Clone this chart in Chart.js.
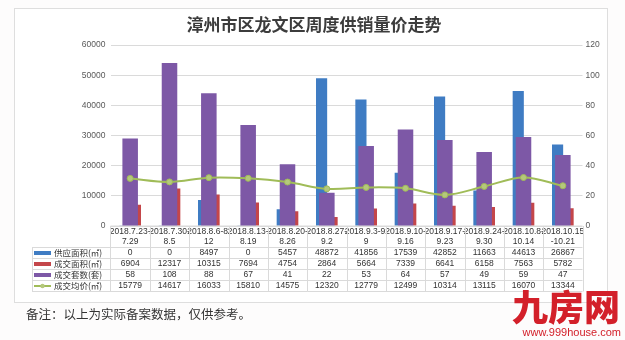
<!DOCTYPE html>
<html lang="zh-CN">
<head>
<meta charset="utf-8">
<title>漳州市区龙文区周度供销量价走势</title>
<script src="https://cdn.jsdelivr.net/npm/chart.js@4/dist/chart.umd.min.js"></script>
<style>
  html, body { margin: 0; padding: 0; background: #fdfcfc; }
  body { width: 625px; height: 340px; position: relative; overflow: hidden;
         font-family: "Liberation Sans", Arial, sans-serif; }
  .card { position: absolute; left: 14px; top: 8px; width: 592px; height: 293px;
          background: #fff; border: 1px solid #dedede; }
  #chart { position: absolute; left: 0; top: 0; }
  .title { position: absolute; left: 0; width: 628px; top: 11px; text-align: center;
           font: 600 17px "Noto Sans CJK SC", sans-serif; color: #3c3c3c; }
  .note { position: absolute; left: 26px; top: 304px;
          font: 12.5px "Noto Sans CJK SC", sans-serif; color: #333; }
  .logo { position: absolute; right: 5px; top: 284px; font: 900 36px "Noto Sans CJK SC", sans-serif;
          color: #d3202a; letter-spacing: 0px; line-height: 42px; }
  .site { position: absolute; right: 4px; top: 326px; font: 11px "Liberation Sans", Arial, sans-serif;
          color: #d3202a; }
</style>
</head>
<body>
<div class="card"></div>
<canvas id="chart" width="625" height="340"></canvas>
<div class="title">漳州市区龙文区周度供销量价走势</div>
<div class="note">备注：以上为实际备案数据，仅供参考。</div>
<div class="logo">九房网</div>
<div class="site">www.999house.com</div>

<script>
/* 周度区间（两行显示） */
const weeks = [
  ["2018.7.23-", "7.29"],
  ["2018.7.30-", "8.5"],
  ["2018.8.6-8.", "12"],
  ["2018.8.13-", "8.19"],
  ["2018.8.20-", "8.26"],
  ["2018.8.27-", "9.2"],
  ["2018.9.3-9.", "9"],
  ["2018.9.10-", "9.16"],
  ["2018.9.17-", "9.23"],
  ["2018.9.24-", "9.30"],
  ["2018.10.8-", "10.14"],
  ["2018.10.15", "-10.21"],
];

const supplyArea = [0, 0, 8497, 0, 5457, 48872, 41856, 17539, 42852, 11663, 44613, 26867];
const dealArea = [6904, 12317, 10315, 7694, 4754, 2864, 5664, 7339, 6641, 6158, 7563, 5782];
const dealUnits = [58, 108, 88, 67, 41, 22, 53, 64, 57, 49, 59, 47];
const avgPrice = [15779, 14617, 16033, 15810, 14575, 12320, 12779, 12499, 10314, 13115, 16070, 13344];

const leftTicks = [0, 10000, 20000, 30000, 40000, 50000, 60000];
const rightTicks = [0, 20, 40, 60, 80, 100, 120];

const COLORS = {
  supply: "#3f7cc3",
  deal: "#c4464a",
  units: "#7d58a6",
  price: "#a0bc58",
  pricePoint: "#b5c87c",
  grid: "#dadada",
  tick: "#595959",
  text: "#333333",
};

const TICK_FONT = { family: "'Liberation Sans', Arial, sans-serif", size: 8.5, lineHeight: 1.12 };

// 表格行：图例 + 数值
const tableRows = [
  { name: "供应面积(㎡)", values: supplyArea, color: COLORS.supply, kind: "bar" },
  { name: "成交面积(㎡)", values: dealArea, color: COLORS.deal, kind: "bar" },
  { name: "成交套数(套)", values: dealUnits, color: COLORS.units, kind: "bar" },
  { name: "成交均价(㎡)", values: avgPrice, color: COLORS.price, kind: "line" },
];

/* ---------- 图表下方的数据表 ---------- */
const dataTable = {
  id: "dataTable",
  afterDraw(chart) {
    const ctx = chart.ctx;
    const x = chart.scales.x;
    const top = chart.chartArea.bottom;
    const step = x.getPixelForValue(1) - x.getPixelForValue(0);
    const left = x.getPixelForValue(0) - step / 2;
    const right = x.getPixelForValue(weeks.length - 1) + step / 2;
    const headH = 21.5;
    const rowH = 11;
    const legendLeft = 32;
    const bottom = top + headH + rowH * tableRows.length;

    ctx.save();
    ctx.strokeStyle = COLORS.grid;
    ctx.lineWidth = 1;
    ctx.beginPath();
    // 横线
    ctx.moveTo(left, top);
    ctx.lineTo(right, top);
    for (let r = 0; r <= tableRows.length; r++) {
      const y = top + headH + r * rowH;
      ctx.moveTo(legendLeft, y);
      ctx.lineTo(right, y);
    }
    // 竖线
    for (let i = 0; i <= weeks.length; i++) {
      const px = Math.round(left + i * step) + 0.5;
      ctx.moveTo(px, top);
      ctx.lineTo(px, bottom);
    }
    ctx.moveTo(legendLeft + 0.5, top + headH);
    ctx.lineTo(legendLeft + 0.5, bottom);
    ctx.stroke();

    ctx.textBaseline = "middle";
    tableRows.forEach((row, r) => {
      const cy = top + headH + r * rowH + rowH / 2;

      // 图例标记
      if (row.kind === "bar") {
        ctx.fillStyle = row.color;
        ctx.fillRect(legendLeft + 2, cy - 2, 17, 4);
      } else {
        ctx.strokeStyle = row.color;
        ctx.lineWidth = 2;
        ctx.beginPath();
        ctx.moveTo(legendLeft + 2, cy);
        ctx.lineTo(legendLeft + 19, cy);
        ctx.stroke();
        ctx.fillStyle = COLORS.pricePoint;
        ctx.beginPath();
        ctx.arc(legendLeft + 10.5, cy, 2.2, 0, Math.PI * 2);
        ctx.fill();
      }

      ctx.fillStyle = COLORS.text;
      ctx.textAlign = "left";
      ctx.font = "8.5px 'Noto Sans CJK SC', sans-serif";
      ctx.fillText(row.name, legendLeft + 22, cy);

      ctx.textAlign = "center";
      ctx.font = "8.5px 'Liberation Sans', Arial, sans-serif";
      row.values.forEach((v, i) => {
        ctx.fillText(String(v), x.getPixelForValue(i), cy);
      });
    });
    ctx.restore();
  },
};

new Chart(document.getElementById("chart"), {
  type: "bar",
  data: {
    labels: weeks,
    datasets: [
      {
        type: "line",
        label: "成交均价",
        data: avgPrice,
        yAxisID: "y",
        borderColor: COLORS.price,
        borderWidth: 2,
        tension: 0.35,
        pointRadius: 3,
        pointBackgroundColor: COLORS.pricePoint,
        pointBorderColor: COLORS.price,
        pointBorderWidth: 1,
      },
      {
        // 套数柱不参与分组，居中叠在面积柱上
        label: "成交套数",
        data: dealUnits,
        yAxisID: "y2",
        backgroundColor: COLORS.units,
        grouped: false,
        categoryPercentage: 1,
        barPercentage: 0.395,
      },
      {
        label: "供应面积",
        data: supplyArea,
        yAxisID: "y",
        stack: "supply",
        backgroundColor: COLORS.supply,
        barThickness: 10.5,
      },
      {
        label: "成交面积",
        data: dealArea,
        yAxisID: "y",
        stack: "deal",
        backgroundColor: COLORS.deal,
        barThickness: 10.5,
      },
    ],
  },
  options: {
    responsive: false,
    animation: false,
    devicePixelRatio: 1,
    layout: { padding: { top: 45, left: 0, right: 0, bottom: 0 } },
    plugins: {
      legend: { display: false },
      tooltip: { enabled: false },
      title: { display: false },
    },
    scales: {
      x: {
        type: "category",
        position: "bottom",
        offset: true,
        grid: { display: false, drawTicks: false },
        border: { display: false },
        ticks: { color: COLORS.text, font: TICK_FONT, padding: 1, maxRotation: 0, minRotation: 0, autoSkip: false },
        afterFit: (s) => { s.height = 114; },
      },
      y: {
        position: "left",
        min: 0,
        max: 60000,
        afterBuildTicks: (s) => { s.ticks = leftTicks.map((v) => ({ value: v })); },
        grid: { color: COLORS.grid, drawTicks: false },
        border: { display: false },
        ticks: { color: COLORS.tick, font: TICK_FONT, padding: 5, callback: (v) => String(v) },
        afterFit: (s) => { s.width = 110.5; },
      },
      y2: {
        position: "right",
        min: 0,
        max: 120,
        afterBuildTicks: (s) => { s.ticks = rightTicks.map((v) => ({ value: v })); },
        grid: { display: false, drawTicks: false },
        border: { display: false },
        ticks: { color: COLORS.tick, font: TICK_FONT, padding: 3, callback: (v) => String(v) },
        afterFit: (s) => { s.width = 42.5; },
      },
    },
  },
  plugins: [dataTable],
});
</script>
</body>
</html>
